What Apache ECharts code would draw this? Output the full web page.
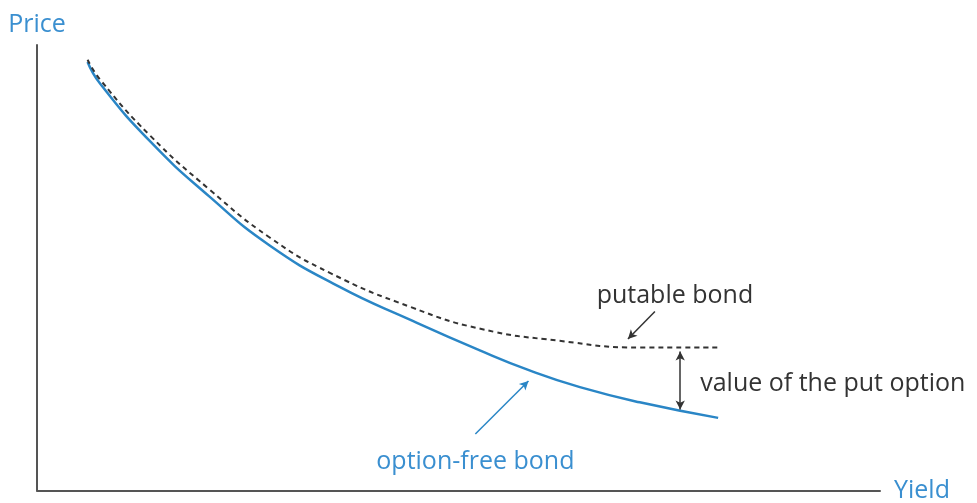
<!DOCTYPE html>
<html>
<head>
<meta charset="utf-8">
<script src="https://cdn.jsdelivr.net/npm/echarts@6/dist/echarts.min.js"></script>
<style>
  html, body { margin: 0; padding: 0; background: #fff; }
  #root { width: 977px; height: 503px; }
</style>
</head>
<body>
<div id="root"></div>
<script>
// yield (x) and price (y)
const optionFreeYield = [0.6, 0.75, 1.34, 2.05, 2.76, 3.59, 4.43, 5.26, 5.85, 6.44, 7.15, 8.08]
const optionFreePrice = [96.2, 91.3, 78.4, 65.9, 55.0, 45.7, 38.3, 31.4, 26.9, 23.2, 19.8, 16.3]

const putableYield = [0.6, 0.75, 1.34, 2.05, 2.76, 3.48, 4.43, 5.26, 6.2, 7.15, 8.08]
const putablePrice = [96.7, 92.2, 79.7, 67.5, 56.8, 48.8, 41.2, 36.3, 33.6, 32.1, 32.1]

// annotation arrows: [from, to] in yield / price
const putableArrow = [[7.33, 40.2], [7.01, 34.0]]
const optionFreeArrow = [[5.2, 12.7], [5.83, 24.6]]
const putValueArrow = [[7.63, 31.2], [7.63, 18.2]]

const blue = '#2a86c6'
const textBlue = '#3a8fd0'
const dark = '#333333'
const font = '25px "Open Sans"'

const pairs = (xs, ys) => xs.map((x, i) => [x, ys[i]])

const arrowLine = (seg, color, both) => ({
  silent: true,
  symbol: both ? ['arrow', 'arrow'] : ['none', 'arrow'],
  symbolSize: [7, 9],
  label: { show: false },
  lineStyle: { color: color, width: 1.5, type: 'solid' },
  data: [[{ coord: seg[0] }, { coord: seg[1] }]]
})

const chart = echarts.init(document.getElementById('root'))

const option = {
  animation: false,
  backgroundColor: '#fff',
  textStyle: { fontFamily: 'Open Sans' },
  grid: { left: 37, right: 97, top: 45, bottom: 9 },
  xAxis: {
    type: 'value', min: 0, max: 10,
    name: 'Yield', nameLocation: 'end', nameGap: 14,
    nameTextStyle: { color: textBlue, fontSize: 25, fontFamily: 'Open Sans', verticalAlign: 'middle', padding: [8, 0, 0, 0] },
    axisLine: { show: true, lineStyle: { color: '#555', width: 2 } },
    axisTick: { show: false }, axisLabel: { show: false }, splitLine: { show: false }
  },
  yAxis: {
    type: 'value', min: 0, max: 100,
    name: 'Price', nameLocation: 'end', nameGap: 8,
    nameTextStyle: { color: textBlue, fontSize: 25, fontFamily: 'Open Sans', align: 'center' },
    axisLine: { show: true, lineStyle: { color: '#555', width: 2 } },
    axisTick: { show: false }, axisLabel: { show: false }, splitLine: { show: false }
  },
  series: [
    {
      name: 'option-free bond', type: 'line', smooth: 0.5, showSymbol: false,
      data: pairs(optionFreeYield, optionFreePrice),
      lineStyle: { color: blue, width: 2.5 },
      markLine: arrowLine(optionFreeArrow, blue, false)
    },
    {
      name: 'putable bond', type: 'line', smooth: 0.5, showSymbol: false,
      data: pairs(putableYield, putablePrice),
      lineStyle: { color: dark, width: 2, type: [5, 4] },
      markLine: arrowLine(putableArrow, dark, false)
    },
    {
      name: 'put value', type: 'line', data: [], showSymbol: false,
      markLine: arrowLine(putValueArrow, dark, true)
    }
  ]
}

chart.setOption(option)

// text annotations placed next to their arrows
const px = (p) => chart.convertToPixel({ gridIndex: 0 }, p)
const pb = px([7.33, 40.2])
const of = px([5.2, 12.7])
const pv = px([7.63, 24.7])

chart.setOption({
  graphic: [
    { type: 'text', x: pb[0] + 20, y: pb[1] - 16, style: { text: 'putable bond', fill: dark, font: font, textAlign: 'center', textVerticalAlign: 'middle' } },
    { type: 'text', x: of[0], y: of[1] + 28, style: { text: 'option-free bond', fill: textBlue, font: font, textAlign: 'center', textVerticalAlign: 'middle' } },
    { type: 'text', x: pv[0] + 20, y: pv[1] + 3, style: { text: 'value of the put option', fill: dark, font: font, textAlign: 'left', textVerticalAlign: 'middle' } }
  ]
})
</script>
</body>
</html>
